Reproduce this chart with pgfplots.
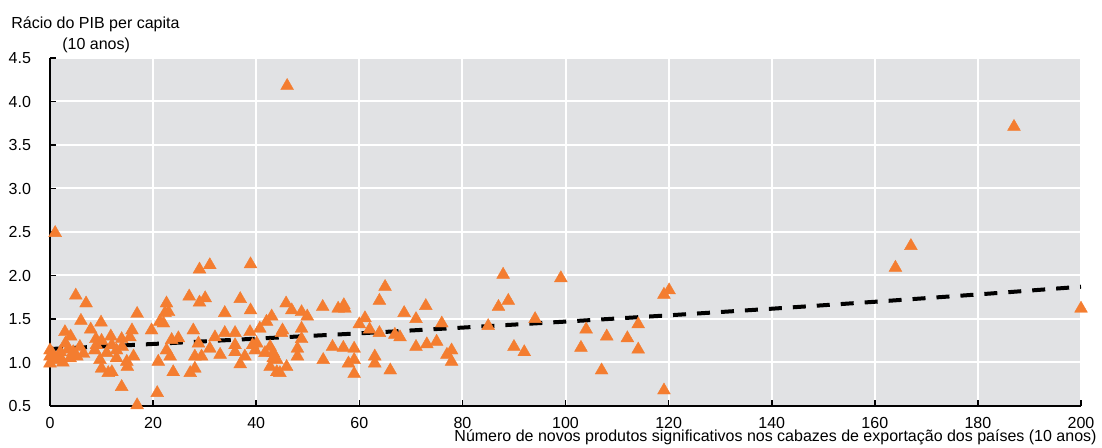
\documentclass[border=0pt]{standalone}
\usepackage{fontspec}
\setmainfont{Liberation Sans}
\usepackage{pgfplots}
\usepackage{pgfplotstable}
\pgfplotsset{compat=1.18}
\definecolor{bgc}{RGB}{225,226,228}
\definecolor{orng}{RGB}{244,125,48}

\pgfplotstableread{
x y
0 1.14
0 1.07
0 0.99
0.5 1.10
1 2.49
1 1.03
1.9 1.07
2 1.12
2.5 1.00
2.9 1.35
3 1.22
3.5 1.15
4.0 1.30
3.9 1.05
4.5 1.12
5 1.77
5.2 1.07
5.8 1.18
6 1.48
6.5 1.10
7 1.68
7.9 1.38
8.9 1.27
8.7 1.14
9 1.20
9.9 1.46
10 1.25
9.7 1.03
10 0.93
11 1.11
11.3 0.88
11.8 1.30
12 0.89
12 1.20
12.9 1.05
12.9 1.14
13.9 1.27
14 1.18
13.9 0.72
14.9 1.01
15 0.95
15.5 1.29
15.9 1.37
16.2 1.07
16.9 1.56
16.9 0.51
19.7 1.37
20.8 0.65
21 1.01
21.3 1.47
22 1.45
22.3 1.57
22.6 1.68
22.6 1.14
23 1.58
23.3 1.07
23.6 1.26
23.9 0.89
24.9 1.28
27 1.76
27.2 0.88
27.8 1.37
28.1 1.07
28.1 0.93
28.8 1.22
29 2.07
29 1.69
29.4 1.07
30.1 1.74
31 2.12
31 1.16
32 1.29
33 1.09
33.9 1.57
33.9 1.34
35.9 1.34
35.9 1.20
35.9 1.12
36.9 1.73
36.9 0.98
37.8 1.07
38.8 1.35
38.9 2.13
38.9 1.60
39.3 1.20
39.8 1.14
40.1 1.22
40.7 1.39
41.7 1.11
42 1.47
42.7 1.18
42.7 0.95
43 1.53
43.3 1.11
43.3 1.05
44 1.03
44 0.89
44.6 0.88
44.9 1.34
45.1 1.37
45.8 1.68
45.9 0.95
46 4.18
46.9 1.60
48 1.16
48 1.07
48.8 1.58
48.8 1.39
48.8 1.27
49.9 1.53
52.9 1.64
53 1.03
54.8 1.18
55.9 1.62
56.9 1.17
57 1.66
57.2 1.62
57.9 0.99
59 1.16
59 1.03
59 0.87
60 1.44
61.1 1.51
62 1.38
63 1.07
63 0.99
63.9 1.71
63.9 1.34
65 1.87
66 0.91
66.9 1.32
67.9 1.29
68.7 1.57
71 1.50
71 1.18
72.9 1.65
73.1 1.21
75 1.24
76 1.45
77 1.09
77.9 1.14
77.9 1.01
85 1.42
87 1.64
87.9 2.01
88.9 1.71
90 1.18
92 1.12
94.1 1.50
99.1 1.97
103 1.17
104 1.38
107 0.91
108 1.30
112 1.28
114.1 1.44
114.1 1.15
119.1 1.78
120.1 1.83
119.1 0.68
164 2.09
167 2.34
187 3.71
200 1.62
}\scatterdata

\begin{document}
\begin{tikzpicture}[font=\fontsize{8}{10}\selectfont]
\begin{axis}[
  at={(0,0)}, anchor=south west,
  scale only axis, width=515.5pt, height=174pt,
  xmin=0, xmax=200, ymin=0.5, ymax=4.5,
  xtick={0,20,...,200}, ytick={0.5,1,1.5,2,2.5,3,3.5,4,4.5},
  axis background/.style={fill=bgc},
  grid=major, major grid style={white, line width=1pt},
  axis x line*=bottom, axis y line*=left,
  axis line style={black, line width=1.1pt, -},
  tick align=inside, major tick length=3pt,
  tick style={black, line width=0.8pt},
  /pgf/number format/assume math mode=true,
  yticklabel style={/pgf/number format/.cd, fixed, fixed zerofill, precision=1, /tikz/.cd, xshift=-6pt},
  xticklabel style={yshift=-2pt},
  clip=false,
  xlabel={Número de novos produtos significativos nos cabazes de exportação dos países (10 anos)},
  xlabel style={at={(rel axis cs:1,0)}, anchor=base east, inner sep=0pt, xshift=8pt, yshift=-17.75pt},
]
\addplot[only marks, mark=triangle*, mark size=3.7pt, color=orng, mark options={fill=orng, draw=orng, line width=0.2pt}] table[x=x, y=y] {\scatterdata};
\addplot[black, line width=2pt, dash pattern=on 6.5pt off 5.5pt] coordinates {
(0,1.155) (20,1.213) (40,1.274) (60,1.335) (80,1.401) (100,1.470) (120,1.542) (140,1.618) (160,1.698) (180,1.782) (200,1.871)};
\end{axis}
\node[anchor=base west, inner sep=0pt] at (-19.5pt,188.5pt) {Rácio do PIB per capita};
\node[anchor=base west, inner sep=0pt] at (6pt,178pt) {(10 anos)};
\pgfresetboundingbox
\path[use as bounding box] (-25pt,-21pt) rectangle (526pt,203pt);
\end{tikzpicture}
\end{document}
